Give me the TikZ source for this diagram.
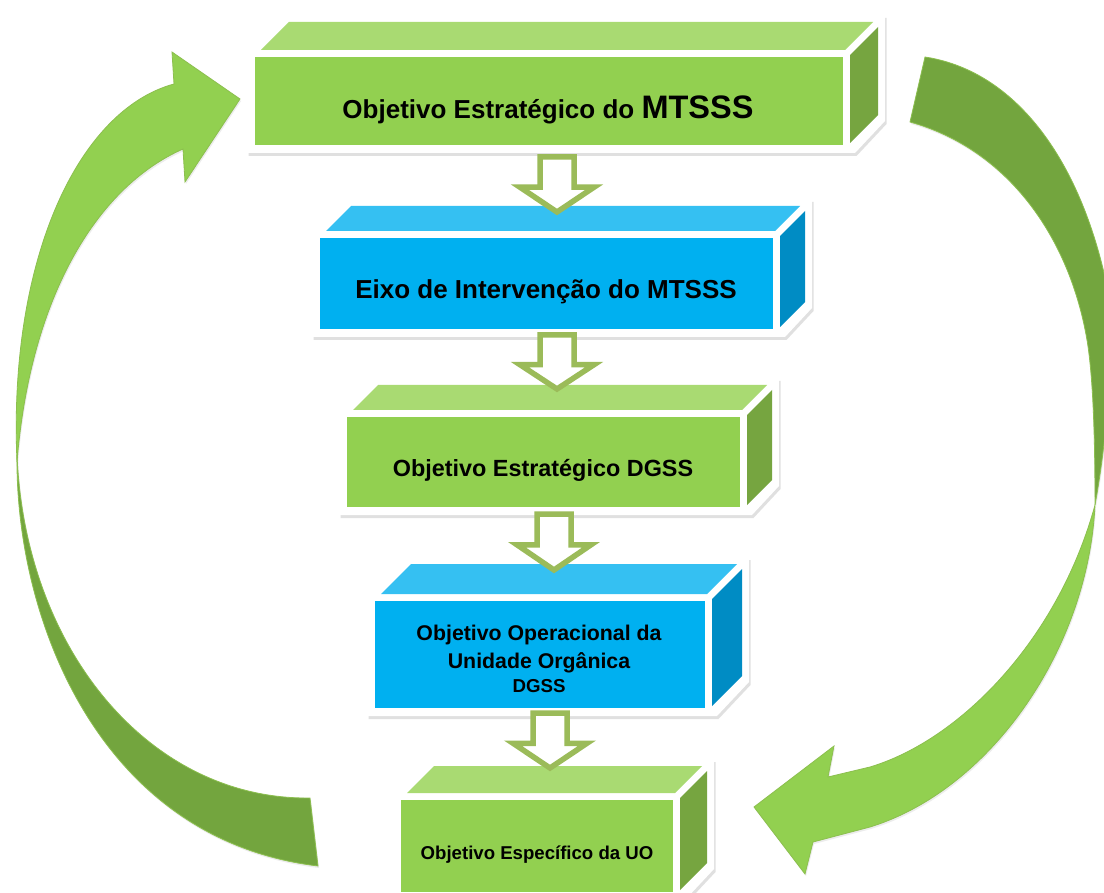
\documentclass[tikz,border=0pt]{standalone}
\usepackage{fontspec}
\setmainfont{Liberation Sans}
\usetikzlibrary{calc,shadows,fit}
\definecolor{gfront}{HTML}{92D050}
\definecolor{gtop}{HTML}{A9DA72}
\definecolor{gside}{HTML}{76A540}
\definecolor{bfront}{HTML}{00B0F0}
\definecolor{btop}{HTML}{35C0F2}
\definecolor{bside}{HTML}{008CC4}
\definecolor{arrowolive}{HTML}{9BBB59}
\definecolor{curvelight}{HTML}{92D050}
\definecolor{curvedark}{HTML}{73A53E}
\definecolor{curveedge}{HTML}{8CBF4F}
\tikzset{
  frameshape/.style={fill=white, drop shadow={shadow xshift=1.5pt, shadow yshift=-3pt, opacity=0.3, fill=black!40}},
  facebox/.style={inner sep=0pt, draw=none},
  label/.style={anchor=base, inner sep=0pt, text=black},
  hollowarrow/.style={draw=arrowolive, line width=5.5pt, fill=white, line join=miter},
  curvepart/.style={draw=curveedge, line width=0.8pt},
  curveshadow/.style={drop shadow={shadow xshift=1pt, shadow yshift=-2pt, opacity=0.15}},
}
% #1 name, #2 x1, #3 y1, #4 x2, #5 y2, #6 depth, #7 colour prefix (g or b)
\newcommand\cubebox[7]{%
  \path[frameshape] (#2-8,#5+8) -- (#2-8,#3-4) -- (#2+#6-2,#3-#6-14) -- (#4+#6+14,#3-#6-14)
     -- (#4+#6+14,#5-#6+4) -- (#4+12,#5+8) -- cycle;
  \fill[#7top] (#2+6,#3-7) -- (#4+2,#3-7) -- (#4+2+#6,#3-7-#6) -- (#2+6+#6,#3-7-#6) -- cycle;
  \fill[#7side] (#4+7,#3-2) -- (#4+7+#6,#3-2-#6) -- (#4+7+#6,#5-2-#6) -- (#4+7,#5-2) -- cycle;
  \node[facebox, fill=#7front, fit={(#2,#3) (#4,#5)}] (#1) {};
}
% #1 name, #2 cx, #3 top y, #4 tip y
\newcommand\blockarrow[4]{%
  \coordinate (#1s) at (#2,#3);
  \coordinate (#1e) at (#2,#4);
  \draw[hollowarrow] ($(#1s)+(-17,0)$) -- ($(#1s)+(17,0)$) -- ($(#1s)!0.55!(#1e)+(17,0)$)
    -- ($(#1s)!0.55!(#1e)+(37,0)$) -- (#1e) -- ($(#1s)!0.55!(#1e)+(-37,0)$)
    -- ($(#1s)!0.55!(#1e)+(-17,0)$) -- cycle;
}
\begin{document}
\begin{tikzpicture}[x=1pt,y=-1pt]
\useasboundingbox[fill=white] (0,0) rectangle (1104,893);

% left curved arrow (from bottom box back to top box)
\fill[curvedark, curvepart, curveshadow]
  (17,455) .. controls (15,620) and (100,840) .. (318,866) -- (310,798)
  .. controls (150,800) and (25,650) .. (17,455) -- cycle;
\fill[curvelight, curvepart, curveshadow]
  (17,462) .. controls (8,260) and (78,110) .. (174,84) -- (172,52) -- (240,99)
  -- (185,182) -- (183,149) .. controls (95,188) and (30,300) .. (17,462) -- cycle;

% right curved arrow (from top box down to bottom box)
\fill[curvedark, curvepart, curveshadow]
  (925,57) .. controls (1010,70) and (1075,150) .. (1104,273)
  .. controls (1117,350) and (1105,450) .. (1095,505)
  .. controls (1095,420) and (1092,370) .. (1087,340)
  .. controls (1070,240) and (1010,150) .. (910,122) -- cycle;
\fill[curvelight, curvepart, curveshadow]
  (1095,505) .. controls (1088,650) and (990,790) .. (870,827) -- (813,842) -- (805,874)
  -- (754,807) -- (834,746) -- (828,777) -- (870,767)
  .. controls (960,740) and (1058,640) .. (1095,505) -- cycle;

% boxes
\cubebox{b1}{255}{57}{843}{145}{28}{g}
\cubebox{b2}{320}{238}{773}{329}{25}{b}
\cubebox{b3}{347}{417}{740}{507}{25}{g}
\cubebox{b4}{375}{601}{705}{708}{30}{b}
\cubebox{b5}{401}{800}{673}{892}{27}{g}

% labels
\node[label, font=\bfseries\fontsize{26}{30}\selectfont] (t1) at (548,119)
  {Objetivo Estratégico do {\fontsize{32.5}{36}\selectfont MTSSS}};
\node[label, font=\bfseries\fontsize{26}{30}\selectfont] (t2) at (546,299)
  {Eixo de Intervenção do MTSSS};
\node[label, font=\bfseries\fontsize{23.4}{28}\selectfont] (t3) at (543,476)
  {Objetivo Estratégico DGSS};
\node[label, font=\bfseries\fontsize{21.3}{26}\selectfont] (t4a) at (539,640)
  {Objetivo Operacional da};
\node[label, font=\bfseries\fontsize{21.3}{26}\selectfont] (t4b) at (539,668)
  {Unidade Orgânica};
\node[label, font=\bfseries\fontsize{18.7}{22}\selectfont] (t4c) at (539,692)
  {DGSS};
\node[label, font=\bfseries\fontsize{18.6}{22}\selectfont] (t5) at (537,859)
  {Objetivo Específico da UO};

% hollow block arrows between boxes
\blockarrow{a1}{557}{157}{212}
\blockarrow{a2}{557}{335}{389}
\blockarrow{a3}{554}{514}{570}
\blockarrow{a4}{550}{713}{768}
\end{tikzpicture}
\end{document}
